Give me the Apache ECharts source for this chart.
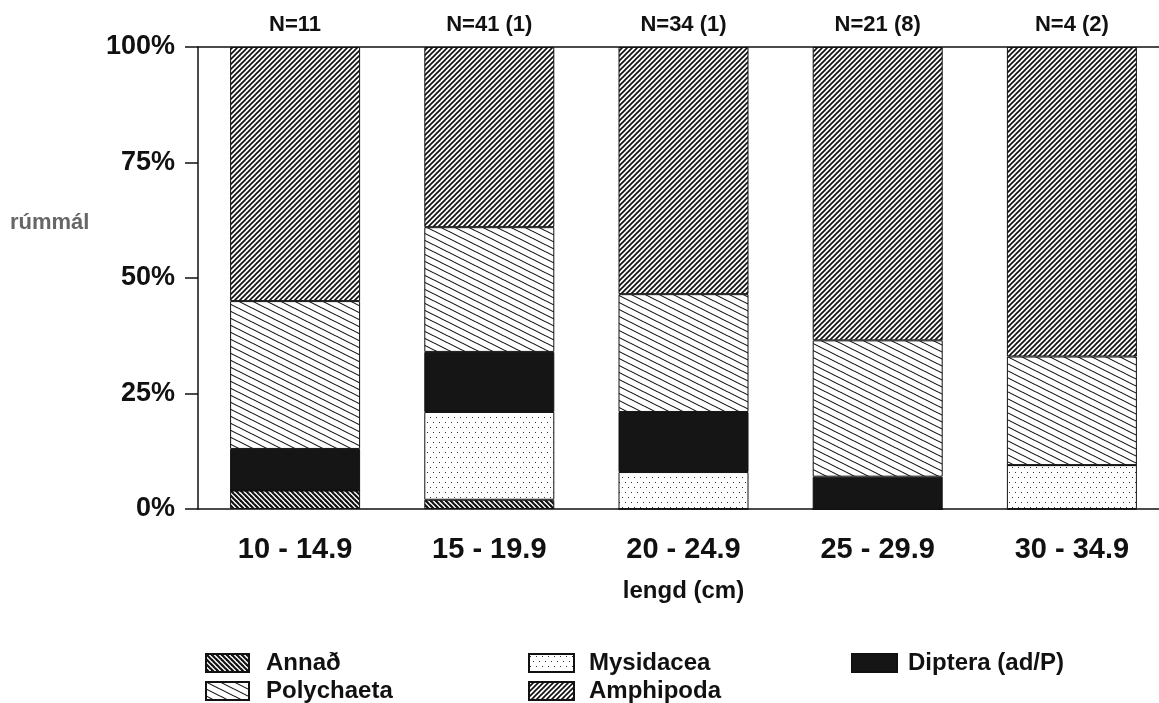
<!DOCTYPE html>
<html>
<head>
<meta charset="utf-8">
<script src="https://cdn.jsdelivr.net/npm/echarts@6/dist/echarts.min.js"></script>
<style>
  html, body { margin: 0; padding: 0; background: #fff; }
  #chart { width: 1159px; height: 703px; }
</style>
</head>
<body>
<div id="chart"></div>
<script>
  // lengdarflokkar og fjöldi fiska
  const categories = ['10 - 14.9', '15 - 19.9', '20 - 24.9', '25 - 29.9', '30 - 34.9'];
  const nLabels = ['N=11', 'N=41 (1)', 'N=34 (1)', 'N=21 (8)', 'N=4 (2)'];
  const yTicks = [0, 25, 50, 75, 100];

  // hlutfall af rúmmáli (%), neðst -> efst
  const annad = [4, 2, 0, 0, 0];
  const mysidacea = [0, 19, 8, 0, 9.5];
  const diptera = [9, 13, 13, 7, 0];
  const polychaeta = [32, 27, 25.5, 29.5, 23.5];
  const amphipoda = [55, 39, 53.5, 63.5, 67];

  const FONT = '"Liberation Sans", Arial, sans-serif';

  // mynstur fyrir súlurnar
  function hatch(w, h, dir, lw, color) {
    const c = document.createElement('canvas');
    c.width = w; c.height = h;
    const ctx = c.getContext('2d');
    ctx.fillStyle = '#fff';
    ctx.fillRect(0, 0, w, h);
    ctx.strokeStyle = color;
    ctx.lineWidth = lw;
    for (let k = -1; k <= 1; k++) {
      ctx.beginPath();
      if (dir === '/') {
        ctx.moveTo(k * w - w, 2 * h);
        ctx.lineTo(k * w + 2 * w, -h);
      } else {
        ctx.moveTo(k * w - w, -h);
        ctx.lineTo(k * w + 2 * w, 2 * h);
      }
      ctx.stroke();
    }
    return { image: c, repeat: 'repeat' };
  }
  function dots() {
    const c = document.createElement('canvas');
    c.width = 6; c.height = 10;
    const ctx = c.getContext('2d');
    ctx.fillStyle = '#fff';
    ctx.fillRect(0, 0, 6, 10);
    ctx.fillStyle = '#333';
    ctx.fillRect(1, 2, 1, 1);
    ctx.fillRect(4, 7, 1, 1);
    return { image: c, repeat: 'repeat' };
  }

  const fills = {
    annad: hatch(5, 5, '\\', 2.2, '#111'),
    mysidacea: dots(),
    diptera: '#151515',
    polychaeta: hatch(14, 7, '\\', 1.1, '#111'),
    amphipoda: hatch(5, 5, '/', 1.7, '#111')
  };

  function barSeries(name, data, fill) {
    return {
      name: name,
      type: 'bar',
      stack: 'rummal',
      barWidth: 130,
      data: data,
      itemStyle: { color: fill, borderColor: '#111', borderWidth: 1 }
    };
  }

  // ein skýring fyrir hvern lið
  function legendItem(name, left, top, iconW, gap) {
    return {
      data: [name], left: left, top: top, icon: 'rect',
      itemWidth: iconW, itemHeight: 18,
      textStyle: { fontFamily: FONT, fontSize: 24, fontWeight: 'bold', color: '#111',
        lineHeight: 18, padding: [0, 0, 0, gap] }
    };
  }

  const chart = echarts.init(document.getElementById('chart'));
  chart.setOption({
    animation: false,
    backgroundColor: '#fff',
    grid: { left: 198, width: 971, top: 47, bottom: 194, outerBoundsMode: 'none' },
    graphic: [{
      type: 'text',
      left: 10,
      top: 212,
      style: { text: 'rúmmál', font: 'bold 22px ' + FONT, fill: '#666' }
    }],
    legend: [
      legendItem('Annað', 200, 646, 43, 12),
      legendItem('Polychaeta', 200, 674, 43, 12),
      legendItem('Mysidacea', 523, 646, 45, 10),
      legendItem('Amphipoda', 523, 674, 45, 10),
      legendItem('Diptera (ad/P)', 846, 646, 45, 6)
    ],
    xAxis: [
      {
        type: 'category',
        data: categories,
        name: 'lengd (cm)',
        nameLocation: 'middle',
        nameGap: 70,
        nameTextStyle: { fontFamily: FONT, fontSize: 24, fontWeight: 'bold', color: '#111' },
        axisLine: { lineStyle: { color: '#111', width: 1.5 } },
        axisTick: { alignWithLabel: true, length: 12, lineStyle: { color: '#111', width: 1.5 } },
        axisLabel: { fontFamily: FONT, fontSize: 29, fontWeight: 'bold', color: '#111', margin: 26 }
      },
      {
        type: 'category',
        position: 'top',
        data: nLabels,
        axisLine: { lineStyle: { color: '#111', width: 1.5 } },
        axisTick: { show: false },
        axisLabel: { fontFamily: FONT, fontSize: 22, fontWeight: 'bold', color: '#111', margin: 11 }
      }
    ],
    yAxis: {
      type: 'value',
      min: yTicks[0],
      max: yTicks[yTicks.length - 1],
      interval: yTicks[1] - yTicks[0],
      splitLine: { show: false },
      axisLine: { show: true, lineStyle: { color: '#111', width: 1.5 } },
      axisTick: { show: true, length: 13, lineStyle: { color: '#111', width: 1.5 } },
      axisLabel: { fontFamily: FONT, fontSize: 27, fontWeight: 'bold', color: '#111', margin: 23, formatter: '{value}%' }
    },
    series: [
      barSeries('Annað', annad, fills.annad),
      barSeries('Mysidacea', mysidacea, fills.mysidacea),
      barSeries('Diptera (ad/P)', diptera, fills.diptera),
      barSeries('Polychaeta', polychaeta, fills.polychaeta),
      barSeries('Amphipoda', amphipoda, fills.amphipoda)
    ]
  });
</script>
</body>
</html>
